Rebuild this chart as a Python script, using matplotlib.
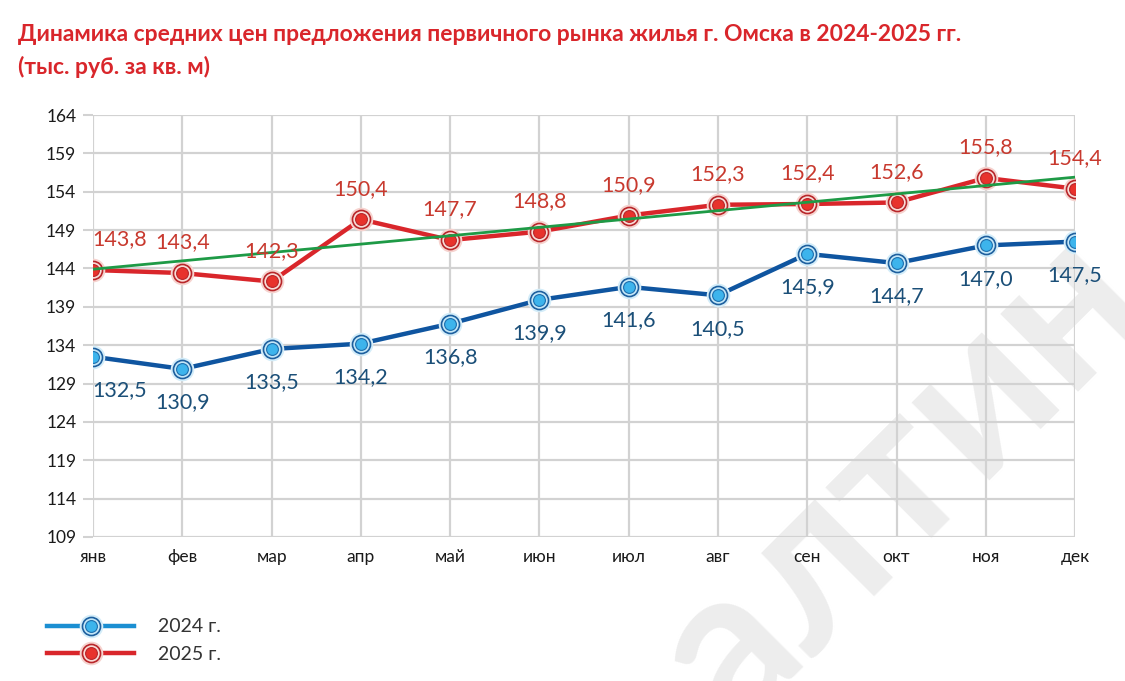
import matplotlib
matplotlib.use("Agg")
import matplotlib.pyplot as plt
from matplotlib.lines import Line2D
from matplotlib.legend_handler import HandlerTuple

plt.rcParams['font.family'] = ['Lato', 'DejaVu Sans']

# data
months = ['янв', 'фев', 'мар', 'апр', 'май', 'июн', 'июл', 'авг', 'сен', 'окт', 'ноя', 'дек']
prices_2024 = [132.5, 130.9, 133.5, 134.2, 136.8, 139.9, 141.6, 140.5, 145.9, 144.7, 147.0, 147.5]
prices_2025 = [143.8, 143.4, 142.3, 150.4, 147.7, 148.8, 150.9, 152.3, 152.4, 152.6, 155.8, 154.4]
trend_2025 = [143.9, 155.9]  # trend line ends (янв, дек)
y_ticks = list(range(109, 165, 5))

title = ('Динамика средних цен предложения первичного рынка жилья г. Омска в 2024-2025 гг.\n'
         '(тыс. руб. за кв. м)')

# colours
blue_line = '#0f55a0'
blue_leg = '#1b8fd2'
blue_lbl = '#1b4f78'
red_line = '#d9262b'
red_lbl = '#c8392e'
green = '#1e9a46'
grid_c = '#d2d2d2'

fig = plt.figure(figsize=(11.25, 6.81), dpi=100)
ax = fig.add_axes([0.0827, 0.2115, 0.8729, 0.6196])
ax.set_facecolor('none')

x = list(range(len(months)))

# watermark behind the chart
fig.text(0.80, 0.30, 'алтин', rotation=45, fontsize=155, color='#ededed',
         weight='bold', ha='center', va='center', zorder=-5)


def draw_series(vals, line_c, halo, ring_face, ring_edge, core, core_edge):
    ax.plot(x, vals, color=line_c, lw=3.2, zorder=3, solid_capstyle='round')
    ax.plot(x, vals, 'o', ms=17, mfc=halo, mec='none', zorder=4)
    ax.plot(x, vals, 'o', ms=13, mfc=ring_face, mec=ring_edge, mew=1.2, zorder=5)
    ax.plot(x, vals, 'o', ms=8.5, mfc=core, mec=core_edge, mew=0.8, zorder=6)


blue_style = ('#d4edf9', '#c4e7f8', '#1d5f9e', '#3db4ec', '#1d6fae')
red_style = ('#f6d3cf', '#f9dcd7', '#b8262a', '#e8322c', '#b8262a')
draw_series(prices_2024, blue_line, *blue_style)
draw_series(prices_2025, red_line, *red_style)

# trend line of 2025
ax.plot([x[0], x[-1]], trend_2025, color=green, lw=2, zorder=7)

# data labels
for i, v in enumerate(prices_2024):
    dx = 19 if i == 0 else 0
    ax.annotate(f'{v:.1f}'.replace('.', ','), (i, v), xytext=(dx, -24),
                textcoords='offset points', ha='center', va='center',
                fontsize=15.5, color=blue_lbl, zorder=8)
for i, v in enumerate(prices_2025):
    dx = 19 if i == 0 else 0
    ax.annotate(f'{v:.1f}'.replace('.', ','), (i, v), xytext=(dx, 22),
                textcoords='offset points', ha='center', va='center',
                fontsize=15.5, color=red_lbl, zorder=8)

ax.set_xlim(0, 11)
ax.set_ylim(109, 164)
ax.set_xticks(x)
ax.set_xticklabels(months)
ax.set_yticks(y_ticks)
ax.tick_params(axis='x', length=0, pad=9, labelsize=12.5, labelcolor='#1a1a1a')
ax.tick_params(axis='y', length=7, width=1.5, color=grid_c, pad=5, labelsize=12.5,
               labelcolor='#1a1a1a')
for s in ax.spines.values():
    s.set_visible(False)
ax.grid(True, color=grid_c, lw=1.6)
ax.set_axisbelow(True)

fig.text(0.016, 0.925, title, ha='left', va='center', fontsize=16.5, weight='bold',
         color=red_line, linespacing=1.6)

# legend
def leg_handle(line_c, halo, ring_face, ring_edge, core, core_edge):
    return (Line2D([], [], color=line_c, lw=3.2),
            Line2D([], [], marker='o', ls='none', ms=17, mfc=halo, mec='none'),
            Line2D([], [], marker='o', ls='none', ms=13, mfc=ring_face, mec=ring_edge, mew=1.2),
            Line2D([], [], marker='o', ls='none', ms=8.5, mfc=core, mec=core_edge, mew=0.8))


handles = [leg_handle(blue_leg, *blue_style), leg_handle(red_line, *red_style)]
fig.legend(handles, ['2024 г.', '2025 г.'], handler_map={tuple: HandlerTuple(ndivide=1, pad=0)},
           loc='center left', bbox_to_anchor=(0.026, 0.059), frameon=False,
           fontsize=14, handlelength=4.5, handletextpad=1.2, labelspacing=0.55,
           labelcolor='#333333')

fig.savefig('out.png', dpi=100)
